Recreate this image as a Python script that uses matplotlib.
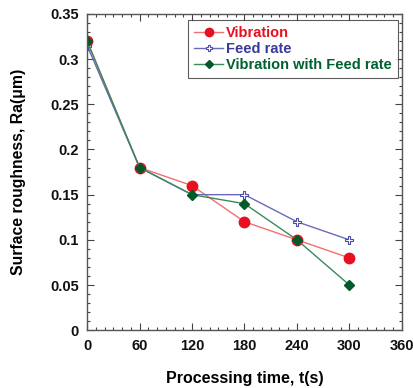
import matplotlib
matplotlib.use("Agg")
import matplotlib.pyplot as plt
from matplotlib.ticker import MultipleLocator

plt.rcParams['font.family'] = ['Liberation Sans', 'DejaVu Sans']
plt.rcParams['font.weight'] = 'bold'

time = [0, 60, 120, 180, 240, 300]
vibration = [0.32, 0.18, 0.16, 0.12, 0.10, 0.08]
feed_rate = [0.315, 0.18, 0.15, 0.15, 0.12, 0.10]
vib_feed = [0.32, 0.18, 0.15, 0.14, 0.10, 0.05]

fig = plt.figure(figsize=(4.13, 3.88), dpi=100)
ax = fig.add_axes([0.211, 0.149, 0.762, 0.815])

ax.plot(time, vibration, color='#f07070', lw=1, marker='o', ms=7.5,
        mfc='#e81020', mec='#e81020', label='Vibration')
ax.plot(time, feed_rate, color='#6a6ab8', lw=1, marker='P', ms=6,
        mfc='white', mec='#4a4aa8', mew=0.8, label='Feed rate')
ax.plot(time, vib_feed, color='#3a8a5a', lw=1, marker='D', ms=5,
        mfc='#005a2a', mec='#005a2a', label='Vibration with Feed rate')

ax.set_xlim(0, 360)
ax.set_ylim(0, 0.35)
ax.xaxis.set_major_locator(MultipleLocator(60))
ax.xaxis.set_minor_locator(MultipleLocator(10))
ax.yaxis.set_minor_locator(MultipleLocator(0.01))
ax.set_yticks([0, 0.05, 0.1, 0.15, 0.2, 0.25, 0.3, 0.35])
ax.set_yticklabels(['0', '0.05', '0.1', '0.15', '0.2', '0.25', '0.3', '0.35'])
ax.tick_params(which='both', direction='in', top=True, right=True, labelsize=10.5, width=0.8, colors='#444444')
ax.tick_params(which='major', length=5, pad=6)
ax.tick_params(which='minor', length=2.5)
for lab in ax.get_xticklabels() + ax.get_yticklabels():
    lab.set_color('#111111')
for s in ax.spines.values():
    s.set_color('#555555')
    s.set_linewidth(1)

ax.set_xlabel('Processing time, t(s)', fontsize=11.5, fontweight='bold', labelpad=13)
ax.set_ylabel('Surface roughness, Ra(\u03bcm)', fontsize=11.3, fontweight='bold', labelpad=17)

leg = ax.legend(loc='upper right', bbox_to_anchor=(0.987, 0.981), frameon=True, fancybox=False,
                edgecolor='#333333', fontsize=10.5, handlelength=2.0, borderpad=0.4,
                labelspacing=0.15, handletextpad=0.2, borderaxespad=0, markerscale=0.8)
leg.get_frame().set_linewidth(0.8)
for txt, c in zip(leg.get_texts(), ['#e81020', '#3a3a98', '#006030']):
    txt.set_color(c)
    txt.set_fontweight('bold')

fig.savefig('out.png', dpi=100)
